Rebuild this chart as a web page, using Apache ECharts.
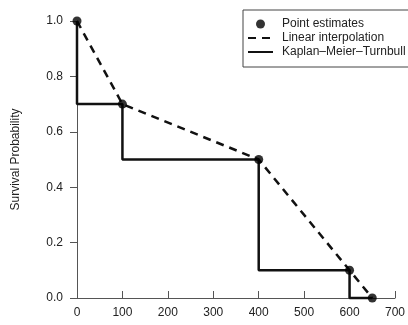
<!DOCTYPE html>
<html>
<head>
<meta charset="utf-8">
<script src="https://cdn.jsdelivr.net/npm/echarts@6/dist/echarts.min.js"></script>
<style>
  html, body { margin: 0; padding: 0; background: #fff; }
  #chart { width: 408px; height: 325px; }
</style>
</head>
<body>
<div id="chart"></div>
<script>
// point estimates (time, survival prob)
const pointTimes = [0, 100, 400, 600, 650];
const pointProbs = [1.0, 0.7, 0.5, 0.1, 0.0];
// Kaplan-Meier-Turnbull step function
const kmtTimes = [0, 0, 100, 100, 400, 400, 600, 600, 650];
const kmtProbs = [1.0, 0.7, 0.7, 0.5, 0.5, 0.1, 0.1, 0.0, 0.0];
// axis ticks
const xTicks = [0, 100, 200, 300, 400, 500, 600, 700];
const yTicks = [0.0, 0.2, 0.4, 0.6, 0.8, 1.0];

const font = 'Liberation Sans, Arial, sans-serif';
const ink = '#222';
const axisCol = '#555';

const chart = echarts.init(document.getElementById('chart'));

const zip = (xs, ys) => xs.map((x, i) => [x, ys[i]]);

chart.setOption({
  animation: false,
  backgroundColor: '#fff',
  textStyle: { fontFamily: font, color: ink },
  grid: { left: 77, right: 10, top: 21, bottom: 27 },
  legend: {
    orient: 'vertical',
    left: 243,
    top: 10,
    padding: [7, 20, 8, 4],
    itemGap: 0,
    itemWidth: 25,
    itemHeight: 9,
    borderColor: '#444',
    borderWidth: 1,
    borderRadius: 0,
    textStyle: { fontFamily: font, fontSize: 12, color: ink, lineHeight: 14, padding: [0, 0, 0, 4] },
    data: [
      { name: 'Point estimates' },
      // line items: hide the symbol, keep only the stroke
      { name: 'Linear interpolation', itemStyle: { opacity: 0 } },
      { name: 'Kaplan\u2013Meier\u2013Turnbull', itemStyle: { opacity: 0 } }
    ]
  },
  xAxis: {
    type: 'value',
    min: xTicks[0],
    max: xTicks[xTicks.length - 1],
    interval: 100,
    axisLine: { show: true, lineStyle: { color: axisCol, width: 1 } },
    axisTick: { show: true, inside: true, length: 7, lineStyle: { color: axisCol, width: 1 } },
    axisLabel: { fontSize: 12, color: ink, margin: 9, fontFamily: font },
    splitLine: { show: false }
  },
  yAxis: {
    type: 'value',
    min: yTicks[0],
    max: yTicks[yTicks.length - 1],
    interval: 0.2,
    name: 'Survival Probability',
    nameLocation: 'middle',
    nameGap: 55,
    nameTextStyle: { fontSize: 12, color: ink, fontFamily: font },
    axisLine: { show: true, lineStyle: { color: axisCol, width: 1 } },
    axisTick: { show: true, inside: false, length: 7, lineStyle: { color: axisCol, width: 1 } },
    axisLabel: { fontSize: 12, color: ink, margin: 14, fontFamily: font, formatter: v => v.toFixed(1) },
    splitLine: { show: false }
  },
  series: [
    {
      name: 'Linear interpolation',
      type: 'line',
      data: zip(pointTimes, pointProbs),
      symbol: 'none',
      clip: false,
      lineStyle: { color: '#111', width: 2.5, type: [8, 6] },
      itemStyle: { color: '#111' },
      z: 2
    },
    {
      name: 'Kaplan\u2013Meier\u2013Turnbull',
      type: 'line',
      data: zip(kmtTimes, kmtProbs),
      symbol: 'none',
      clip: false,
      lineStyle: { color: '#111', width: 2.5 },
      itemStyle: { color: '#111' },
      z: 3
    },
    {
      name: 'Point estimates',
      type: 'scatter',
      data: zip(pointTimes, pointProbs),
      symbol: 'circle',
      symbolSize: 9,
      clip: false,
      itemStyle: { color: '#000' },
      z: 4
    }
  ]
});
</script>
</body>
</html>
